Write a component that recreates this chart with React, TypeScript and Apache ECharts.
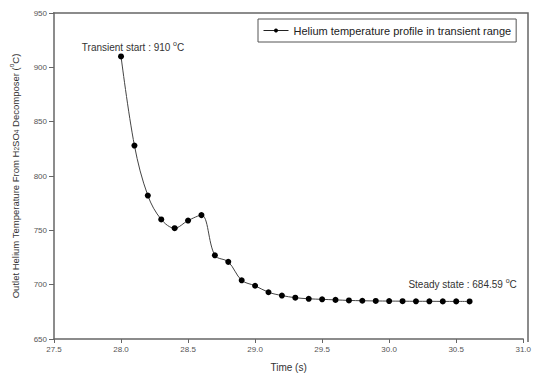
import React, { useEffect, useRef } from "react";
import * as echarts from "echarts";

const times = [
  28.0, 28.1, 28.2, 28.3, 28.4, 28.5, 28.6, 28.7, 28.8, 28.9, 29.0, 29.1, 29.2,
  29.3, 29.4, 29.5, 29.6, 29.7, 29.8, 29.9, 30.0, 30.1, 30.2, 30.3, 30.4, 30.5,
  30.6,
];
const temps = [
  910, 828, 782, 760, 752, 759, 764, 727, 721, 704, 699, 693, 690, 688, 687,
  686.5, 686, 685.5, 685.2, 685, 684.9, 684.8, 684.7, 684.7, 684.6, 684.6,
  684.59,
];
const seriesName = "Helium temperature profile in transient range";
const startLabel = "{a|Transient start : 910 }{s|o}{a|C}";
const endLabel = "{a|Steady state : 684.59 }{s|o}{a|C}";
const yName =
  "{a|Outlet Helium Temperature From H}{b|2}{a|SO}{b|4}{a| Decomposer (}{s|o}{a|C)}";
const xName = "Time (s)";

const FONT = "Liberation Sans, Arial, sans-serif";

export default function App() {
  const ref = useRef<HTMLDivElement>(null);
  useEffect(() => {
    document.body.style.margin = "0";
    if (!ref.current) return;
    const chart = echarts.init(ref.current, null, { renderer: "svg" });
    const richLabel = {
      a: { fontSize: 10, color: "#333", fontFamily: FONT, lineHeight: 12, verticalAlign: "bottom" },
      s: { fontSize: 7, color: "#333", fontFamily: FONT, lineHeight: 12, verticalAlign: "top" },
    };
    const last = times.length - 1;
    const data = times.map((t, i) => {
      const item: any = { value: [t, temps[i]] };
      if (i === 0) {
        item.label = {
          show: true,
          position: "top",
          distance: 1,
          offset: [12, 0],
          formatter: startLabel,
          rich: richLabel,
        };
      } else if (i === last) {
        item.label = {
          show: true,
          position: "top",
          distance: 9,
          offset: [-7, 0],
          formatter: endLabel,
          rich: richLabel,
        };
      }
      return item;
    });
    const top = 13, left = 53, rightGap = 6, bottomGap = 35;
    const right = 534 - rightGap, bottom = 377 - bottomGap;
    chart.setOption({
      animation: false,
      textStyle: { fontFamily: FONT },
      grid: { left, right: rightGap, top, bottom: bottomGap },
      legend: {
        left: 258,
        top: 19,
        padding: [5, 5, 5, 5],
        itemWidth: 25,
        itemHeight: 5,
        itemGap: 5,
        borderColor: "#555",
        borderWidth: 1,
        lineStyle: { width: 1, color: "#222" },
        textStyle: { fontSize: 11, color: "#222", fontFamily: FONT, lineHeight: 13 },
        data: [seriesName],
      },
      xAxis: {
        type: "value",
        min: 27.5,
        max: 31,
        interval: 0.5,
        name: xName,
        nameLocation: "middle",
        nameGap: 23,
        nameTextStyle: { fontSize: 10, color: "#333", fontFamily: FONT },
        axisLine: { show: true, onZero: false, lineStyle: { color: "#666", width: 1.5 } },
        axisTick: { show: true, inside: false, length: 4, lineStyle: { color: "#666" } },
        axisLabel: {
          fontSize: 8,
          color: "#555",
          margin: 6,
          formatter: (v: number) => v.toFixed(1),
        },
        splitLine: { show: false },
      },
      yAxis: {
        type: "value",
        min: 650,
        max: 950,
        interval: 50,
        name: yName,
        nameLocation: "middle",
        nameGap: 34,
        nameTextStyle: {
          rich: {
            a: { fontSize: 9.5, color: "#333", fontFamily: FONT, lineHeight: 12, verticalAlign: "bottom" },
            b: { fontSize: 6.5, color: "#333", fontFamily: FONT, lineHeight: 12, verticalAlign: "bottom" },
            s: { fontSize: 6.5, color: "#333", fontFamily: FONT, lineHeight: 12, verticalAlign: "top" },
          },
        },
        axisLine: { show: true, lineStyle: { color: "#666", width: 1.5 } },
        axisTick: { show: true, inside: false, length: 5, lineStyle: { color: "#666" } },
        axisLabel: { fontSize: 8, color: "#555", margin: 7 },
        splitLine: { show: false },
      },
      graphic: [
        {
          type: "polyline",
          silent: true,
          shape: { points: [[left, top], [right, top], [right, bottom]] },
          style: { stroke: "#666", lineWidth: 1.5, fill: "none" },
        },
      ],
      series: [
        {
          name: seriesName,
          type: "line",
          smooth: 0.35,
          symbol: "circle",
          symbolSize: 6,
          itemStyle: { color: "#000" },
          lineStyle: { color: "#444", width: 1 },
          data,
        },
      ],
    });
    return () => chart.dispose();
  }, []);
  return <div ref={ref} style={{ width: 534, height: 377 }} />;
}
